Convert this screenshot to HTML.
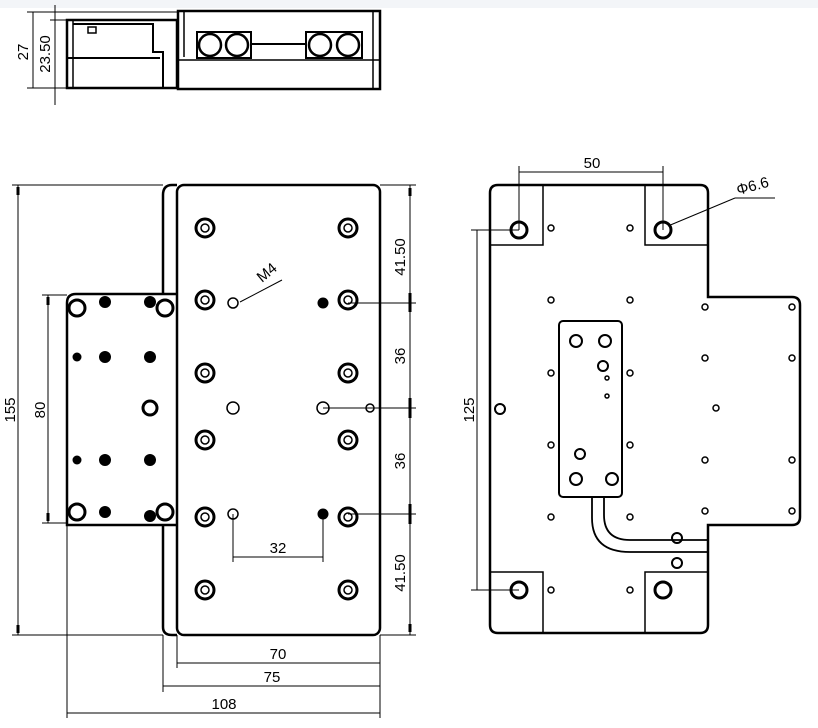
<!DOCTYPE html>
<html><head><meta charset="utf-8"><style>
html,body{margin:0;padding:0;background:#fff}
svg{display:block}
text{font-family:"Liberation Sans","DejaVu Sans",sans-serif;font-size:15px;fill:#000}
</style></head><body>
<svg width="818" height="728" viewBox="0 0 818 728" xmlns="http://www.w3.org/2000/svg">
<rect x="0" y="0" width="818" height="8" fill="#f3f5f8"/>
<g fill="none" stroke="#000">
<rect x="67" y="20" width="110" height="68" stroke-width="2.5"/>
<line x1="67" y1="58" x2="160" y2="58" stroke-width="2"/>
<line x1="73" y1="20" x2="73" y2="88" stroke-width="1.5"/>
<path d="M73 24 H153 V52 H163 V88" stroke-width="2"/>
<rect x="88" y="27" width="8" height="6" stroke-width="1.5"/>
<rect x="178" y="11" width="202" height="78" stroke-width="2.5"/>
<line x1="178" y1="60" x2="380" y2="60" stroke-width="1.5"/>
<line x1="373" y1="11" x2="373" y2="89" stroke-width="1.5"/>
<line x1="184" y1="11" x2="184" y2="57" stroke-width="1.5"/>
<rect x="197" y="32" width="54" height="26" stroke-width="2"/>
<rect x="306" y="32" width="56" height="26" stroke-width="2"/>
<circle cx="210" cy="45" r="11" stroke-width="2.5"/><circle cx="237" cy="45" r="11" stroke-width="2.5"/>
<circle cx="320" cy="45" r="11" stroke-width="2.5"/><circle cx="348" cy="45" r="11" stroke-width="2.5"/>
<line x1="251" y1="44" x2="306" y2="44" stroke-width="2"/>
<g stroke-width="1">
<line x1="33" y1="12" x2="33" y2="88"/><line x1="27" y1="12" x2="178" y2="12"/><line x1="27" y1="88" x2="67" y2="88"/>
<line x1="55" y1="5" x2="55" y2="105"/><line x1="50" y1="20" x2="67" y2="20"/>
</g>
<path d="M177 185 H172 Q163 185 163 195 V295" stroke-width="2.5"/>
<path d="M163 525 V627 Q163 635 172 635 H177" stroke-width="2.5"/>
<path d="M177 294 H76 Q67 294 67 303 V525 H177" stroke-width="2.5"/>
<rect x="177" y="185" width="203" height="450" rx="7" stroke-width="2.5"/>
<g stroke-width="1">
<line x1="18" y1="185" x2="18" y2="635"/><line x1="12" y1="185" x2="163" y2="185"/><line x1="12" y1="635" x2="163" y2="635"/>
<line x1="48" y1="295" x2="48" y2="523"/><line x1="42" y1="295" x2="67" y2="295"/><line x1="42" y1="523" x2="67" y2="523"/>
<line x1="410" y1="185" x2="410" y2="635"/><line x1="380" y1="185" x2="416" y2="185"/><line x1="380" y1="635" x2="416" y2="635"/>
<line x1="348" y1="303" x2="416" y2="303"/><line x1="323" y1="408" x2="416" y2="408"/><line x1="348" y1="514" x2="416" y2="514"/>
<line x1="177" y1="635" x2="177" y2="668"/><line x1="163" y1="635" x2="163" y2="692"/><line x1="67" y1="525" x2="67" y2="718"/><line x1="380" y1="635" x2="380" y2="718"/>
<line x1="177" y1="663" x2="380" y2="663"/><line x1="163" y1="686" x2="380" y2="686"/><line x1="67" y1="713" x2="380" y2="713"/>
<line x1="233" y1="514" x2="233" y2="562"/><line x1="323" y1="514" x2="323" y2="562"/><line x1="233" y1="557" x2="323" y2="557"/>
<line x1="240" y1="302" x2="282" y2="280"/>
</g>
<g stroke-width="3">
<line x1="18" y1="187" x2="18" y2="195"/><line x1="18" y1="625" x2="18" y2="633"/>
<line x1="48" y1="297" x2="48" y2="305"/><line x1="48" y1="513" x2="48" y2="521"/>
<line x1="410" y1="188" x2="410" y2="196"/><line x1="410" y1="293" x2="410" y2="312"/><line x1="410" y1="398" x2="410" y2="418"/><line x1="410" y1="504" x2="410" y2="524"/><line x1="410" y1="624" x2="410" y2="632"/>
</g>
<g stroke-width="3">
<circle cx="205" cy="228" r="9"/><circle cx="348" cy="228" r="9"/>
<circle cx="205" cy="300" r="9"/><circle cx="348" cy="300" r="9"/>
<circle cx="205" cy="373" r="9"/><circle cx="348" cy="373" r="9"/>
<circle cx="205" cy="440" r="9"/><circle cx="348" cy="440" r="9"/>
<circle cx="205" cy="517" r="9"/><circle cx="348" cy="517" r="9"/>
<circle cx="205" cy="590" r="9"/><circle cx="348" cy="590" r="9"/>
<circle cx="77" cy="308" r="8"/><circle cx="165" cy="308" r="8"/><circle cx="150" cy="408" r="7"/>
<circle cx="77" cy="512" r="8"/><circle cx="165" cy="512" r="8"/>
</g>
<g stroke-width="1.5">
<circle cx="205" cy="228" r="4"/><circle cx="348" cy="228" r="4"/><circle cx="205" cy="300" r="4"/><circle cx="348" cy="300" r="4"/>
<circle cx="205" cy="373" r="4"/><circle cx="348" cy="373" r="4"/><circle cx="205" cy="440" r="4"/><circle cx="348" cy="440" r="4"/>
<circle cx="205" cy="517" r="4"/><circle cx="348" cy="517" r="4"/><circle cx="205" cy="590" r="4"/><circle cx="348" cy="590" r="4"/>
<circle cx="233" cy="303" r="5"/><circle cx="233" cy="408" r="6"/><circle cx="323" cy="408" r="6"/><circle cx="370" cy="408" r="4"/>
<circle cx="233" cy="514" r="5"/>
</g>
<path d="M498 185 H700 Q708 185 708 193 V297 H792 Q800 297 800 305 V517 Q800 525 792 525 H708 V625 Q708 633 700 633 H498 Q490 633 490 625 V193 Q490 185 498 185 Z" stroke-width="2.5"/>
<g stroke-width="1.5">
<path d="M490 245 H543 V185"/><path d="M645 185 V245 H708"/>
<path d="M490 572 H543 V633"/><path d="M645 633 V572 H708"/>
</g>
<rect x="559" y="321" width="63" height="176" rx="4" stroke-width="2"/>
<path d="M592 497 V518 Q592 552 630 552 H708" stroke-width="1.8"/>
<path d="M604 497 V515 Q604 540 630 540 H708" stroke-width="1.8"/>
<g stroke-width="1">
<line x1="519" y1="172" x2="663" y2="172"/><line x1="519" y1="166" x2="519" y2="230"/><line x1="663" y1="166" x2="663" y2="230"/>
<line x1="477" y1="230" x2="477" y2="590"/><line x1="471" y1="230" x2="519" y2="230"/><line x1="471" y1="590" x2="519" y2="590"/>
<line x1="668" y1="226" x2="735" y2="198"/><line x1="735" y1="198" x2="775" y2="198"/>
</g>
<g stroke-width="3">
<circle cx="519" cy="230" r="8"/><circle cx="663" cy="230" r="8"/><circle cx="519" cy="590" r="8"/><circle cx="663" cy="590" r="8"/>
</g>
<g stroke-width="2">
<circle cx="576" cy="341" r="6"/><circle cx="605" cy="341" r="6"/><circle cx="603" cy="366" r="5"/>
<circle cx="580" cy="454" r="5"/><circle cx="576" cy="479" r="6"/><circle cx="612" cy="479" r="6"/>
<circle cx="677" cy="538" r="5"/><circle cx="677" cy="563" r="5"/>
<circle cx="500" cy="409" r="5"/>
</g>
<g stroke-width="1.5">
<circle cx="551" cy="228" r="3"/><circle cx="630" cy="228" r="3"/><circle cx="551" cy="300" r="3"/><circle cx="630" cy="300" r="3"/>
<circle cx="705" cy="307" r="3"/><circle cx="792" cy="307" r="3"/><circle cx="551" cy="373" r="3"/><circle cx="630" cy="373" r="3"/>
<circle cx="705" cy="358" r="3"/><circle cx="792" cy="358" r="3"/><circle cx="716" cy="408" r="3"/>
<circle cx="551" cy="445" r="3"/><circle cx="630" cy="445" r="3"/><circle cx="705" cy="460" r="3"/><circle cx="792" cy="460" r="3"/>
<circle cx="551" cy="517" r="3"/><circle cx="630" cy="517" r="3"/><circle cx="705" cy="511" r="3"/><circle cx="792" cy="511" r="3"/>
<circle cx="551" cy="590" r="3"/><circle cx="630" cy="590" r="3"/>
<circle cx="607" cy="378" r="2"/><circle cx="607" cy="396" r="2"/>
</g>
</g>
<g fill="#000">
<circle cx="105" cy="302" r="6"/><circle cx="150" cy="302" r="6"/>
<circle cx="77" cy="357" r="4.5"/><circle cx="105" cy="357" r="6"/><circle cx="150" cy="357" r="6"/>
<circle cx="77" cy="460" r="4.5"/><circle cx="105" cy="460" r="6"/><circle cx="150" cy="460" r="6"/>
<circle cx="105" cy="512" r="6"/><circle cx="150" cy="516" r="6"/>
<circle cx="323" cy="303" r="5.5"/><circle cx="323" cy="514" r="5.5"/>
</g>
<text transform="translate(28,52) rotate(-90)" text-anchor="middle">27</text>
<text transform="translate(50,54) rotate(-90)" text-anchor="middle">23.50</text>
<text transform="translate(15,410) rotate(-90)" text-anchor="middle">155</text>
<text transform="translate(45,410) rotate(-90)" text-anchor="middle">80</text>
<text transform="translate(405,257) rotate(-90)" text-anchor="middle">41.50</text>
<text transform="translate(405,356) rotate(-90)" text-anchor="middle">36</text>
<text transform="translate(405,461) rotate(-90)" text-anchor="middle">36</text>
<text transform="translate(405,573) rotate(-90)" text-anchor="middle">41.50</text>
<text transform="translate(474,410) rotate(-90)" text-anchor="middle">125</text>
<text x="278" y="553" text-anchor="middle">32</text>
<text x="278" y="659" text-anchor="middle">70</text>
<text x="272" y="682" text-anchor="middle">75</text>
<text x="224" y="709" text-anchor="middle">108</text>
<text x="592" y="168" text-anchor="middle">50</text>
<text transform="translate(738,195) rotate(-15)" font-size="13">Φ6.6</text>
<text transform="translate(262,283) rotate(-40)" font-size="11">M4</text>
</svg>
</body></html>
